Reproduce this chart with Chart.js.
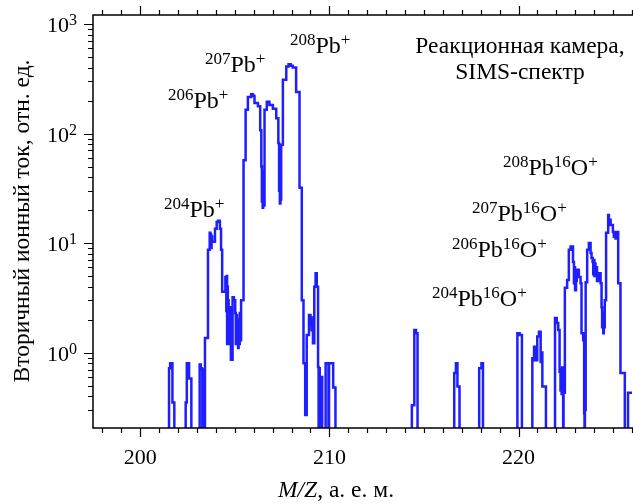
<!DOCTYPE html>
<html lang="ru">
<head>
<meta charset="UTF-8">
<title>SIMS</title>
<script src="https://cdn.jsdelivr.net/npm/chart.js"></script>
<style>
  body { margin: 0; background: #fff; }
  #box { width: 633px; height: 504px; }
</style>
</head>
<body>
<div id="box"><canvas id="chart" width="633" height="504"></canvas></div>
<script>
    // значения ниже оси (нет сигнала)
    var OFF = 0.05;

    // M/Z, а. е. м. (значение держится до следующей точки)
    var masses = [
        197.5,
        201.52, 201.58, 201.62, 201.66, 201.70, 201.80,
        202.40, 202.46, 202.50, 202.54, 202.58, 202.70,
        203.14, 203.20, 203.26, 203.28, 203.30, 203.37,
        203.42, 203.58, 203.67, 203.71, 203.73, 203.75, 203.77, 203.80, 203.95, 204.04, 204.11, 204.21, 204.27,
        204.33, 204.50, 204.55, 204.57, 204.59, 204.61, 204.63, 204.65, 204.67, 204.71, 204.75, 204.79,
        204.88, 204.95, 205.02, 205.05, 205.08, 205.11, 205.14, 205.17, 205.20, 205.23, 205.26, 205.30, 205.33,
        205.46, 205.57, 205.69, 205.86, 205.96, 206.04, 206.22, 206.34, 206.40, 206.43, 206.45, 206.47, 206.50, 206.53,
        206.57, 206.69, 206.83, 207.01, 207.19, 207.30, 207.34, 207.36, 207.38, 207.41, 207.43, 207.45,
        207.54, 207.72, 207.84, 207.95, 208.06, 208.24, 208.42, 208.54, 208.63, 208.72,
        208.80, 208.92, 209.00, 209.03, 209.06, 209.09, 209.13, 209.20, 209.27, 209.33, 209.40,
        209.43, 209.45, 209.49, 209.51, 209.55, 209.57, 209.62,
        209.80, 209.95, 209.98, 210.20, 210.32,
        214.36, 214.49, 214.58, 214.66,
        216.60, 216.69, 216.77, 216.88,
        217.92, 218.04, 218.12,
        219.94, 220.06, 220.18,
        220.73, 220.82, 220.86, 220.90, 220.94, 220.99, 221.08, 221.17, 221.20, 221.26, 221.45,
        221.93, 222.02, 222.10, 222.17, 222.22, 222.25, 222.28, 222.31, 222.36, 222.38,
        222.45, 222.57, 222.66, 222.75, 222.88, 222.93, 222.96, 222.99, 223.04, 223.08, 223.19, 223.28,
        223.33, 223.42, 223.47, 223.49, 223.51,
        223.55, 223.63, 223.72, 223.81, 223.86, 223.92, 223.95, 223.98, 224.01, 224.04, 224.07, 224.10, 224.15,
        224.25, 224.34, 224.39, 224.42, 224.45, 224.48, 224.51, 224.54, 224.56,
        224.63, 224.74, 224.78, 224.81, 224.87, 224.99, 225.04, 225.09, 225.13, 225.18, 225.27,
        225.39, 225.52, 225.62, 225.79, 226.0
    ];

    // Вторичный ионный ток, отн. ед.
    var intensity = [
        OFF,
        0.72, 0.8, 0.72, 0.8, 0.35, OFF,
        0.35, 0.8, 0.7, 0.8, 0.58, OFF,
        0.78, 0.72, 0.7, OFF, 0.7, OFF,
        1.36, 8.7, 12.4, 9.5, 12, 9, 11.5, 10.3, 13.5, 15.6, 16, 13.5, 8.7,
        3.6, 4.9, 2.4, 5.0, 1.2, 4.0, 1.5, 3.0, 1.2, 2.6, 1.4, 0.86,
        3.2, 3.0, 2.3, 1.2, 2.2, 1.3, 2.0, 1.1, 1.8, 1.2, 2.3, 1.3, 3.0,
        57, 165, 215, 228, 220, 190, 177, 107, 50, 24, 45, 21, 40, 22,
        165, 195, 182, 168, 138, 82, 30, 60, 23, 50, 25, 79,
        310, 410, 430, 415, 400, 240, 32, 3.0, 0.8, 0.27,
        1.45, 2.2, 1.8, 2.1, 1.6, 2.0, 1.22, 4.0, 5.3, 4.0, 0.74,
        OFF, 0.72, OFF, 0.6, OFF, 0.6, OFF,
        0.8, OFF, 0.8, 0.48, OFF,
        0.33, 1.61, 1.5, OFF,
        0.65, 0.8, 0.49, OFF,
        0.72, 0.8, OFF,
        1.5, 1.45, OFF,
        0.89, 1.13, 0.85, 1.1, 0.85, 1.4, 1.55, 0.82, 1.0, 0.49, OFF,
        2.07, 1.86, 1.61, 0.67, 0.45, 0.7, 0.42, 0.73, OFF, 0.43,
        3.9, 4.6, 8.7, 9.3, 6.7, 4.3, 6.0, 3.7, 4.5, 5.7, 4.9, 4.3,
        1.5, 1.3, 0.28, OFF, 0.3,
        4.4, 8.7, 10, 8.1, 7.3, 6.7, 5.2, 7.0, 5.0, 6.5, 5.0, 6.0, 4.5,
        5.3, 4.3, 2.6, 1.7, 2.3, 1.5, 2.0, 1.7, 3.0,
        12.4, 18, 15.5, 16.3, 14.6, 12.6, 11.4, 12.6, 11, 12.6, 4.3,
        0.65, 0.65, OFF, 0.43, 0.43
    ];

    var xTicks = [200, 210, 220];
    var yTicks = [1, 10, 100, 1000];

    var FONT = "'Liberation Serif', 'Times New Roman', serif";

    // подписи пиков: [текст, верхний индекс?]
    var notes = [
        { parts: [['204', 1], ['Pb', 0], ['+', 1]], x: 164, y: 217 },
        { parts: [['206', 1], ['Pb', 0], ['+', 1]], x: 168, y: 108 },
        { parts: [['207', 1], ['Pb', 0], ['+', 1]], x: 205, y: 72 },
        { parts: [['208', 1], ['Pb', 0], ['+', 1]], x: 290, y: 53 },
        { parts: [['208', 1], ['Pb', 0], ['16', 1], ['O', 0], ['+', 1]], x: 503, y: 175 },
        { parts: [['207', 1], ['Pb', 0], ['16', 1], ['O', 0], ['+', 1]], x: 472, y: 221 },
        { parts: [['206', 1], ['Pb', 0], ['16', 1], ['O', 0], ['+', 1]], x: 452, y: 257 },
        { parts: [['204', 1], ['Pb', 0], ['16', 1], ['O', 0], ['+', 1]], x: 432, y: 306 }
    ];

    function drawRich(ctx, parts, x, y, size, supSize, raise) {
        var cx = x;
        ctx.textAlign = 'left';
        ctx.textBaseline = 'alphabetic';
        for (var i = 0; i < parts.length; i++) {
            var p = parts[i];
            ctx.font = (p[2] ? 'italic ' : '') + (p[1] ? supSize : size) + 'px ' + FONT;
            ctx.fillText(p[0], cx, p[1] ? y - raise : y);
            cx += ctx.measureText(p[0]).width;
        }
        return cx - x;
    }

    var decor = {
        id: 'decor',
        afterDraw: function (chart) {
            var ctx = chart.ctx, a = chart.chartArea;
            var x = chart.scales.x, y = chart.scales.y;
            ctx.save();
            ctx.strokeStyle = '#000';
            ctx.fillStyle = '#000';
            ctx.lineWidth = 1.5;

            // рамка: слева, снизу, сверху
            ctx.beginPath();
            ctx.moveTo(chart.width, a.top);
            ctx.lineTo(a.left, a.top);
            ctx.lineTo(a.left, a.bottom);
            ctx.lineTo(chart.width, a.bottom);
            ctx.stroke();

            // деления по X
            ctx.lineWidth = 1.2;
            ctx.beginPath();
            for (var m = Math.ceil(x.min); m <= x.max; m++) {
                var px = Math.round(x.getPixelForValue(m)) + 0.5;
                var len = (m % 10 === 0) ? 9 : 5;
                ctx.moveTo(px, a.bottom);
                ctx.lineTo(px, a.bottom + len);
                ctx.moveTo(px, a.top);
                ctx.lineTo(px, a.top - len);
            }
            // деления по Y
            for (var e = -1; e <= 3; e++) {
                for (var k = 1; k <= 9; k++) {
                    var v = k * Math.pow(10, e);
                    if (v < y.min || v > y.max) continue;
                    var py = Math.round(y.getPixelForValue(v)) + 0.5;
                    var l = (k === 1) ? 9 : 5;
                    ctx.moveTo(a.left, py);
                    ctx.lineTo(a.left - l, py);
                }
            }
            ctx.stroke();

            // подписи оси Y: 10^n
            for (var i = 0; i < y.ticks.length; i++) {
                var val = y.ticks[i].value;
                var ty = y.getPixelForValue(val);
                var exp = String(Math.round(Math.log10(val)));
                ctx.font = '16px ' + FONT;
                var sw = ctx.measureText(exp).width;
                ctx.textAlign = 'right';
                ctx.textBaseline = 'alphabetic';
                ctx.fillText(exp, 77, ty + 1);
                ctx.font = '22px ' + FONT;
                ctx.fillText('10', 77 - sw, ty + 8);
            }

            // подпись оси Y
            ctx.save();
            ctx.translate(29, 221);
            ctx.rotate(-Math.PI / 2);
            ctx.font = '23.5px ' + FONT;
            ctx.textAlign = 'center';
            ctx.textBaseline = 'alphabetic';
            ctx.fillText('Вторичный ионный ток, отн. ед.', 0, 0);
            ctx.restore();

            // подпись оси X
            drawRich(ctx, [['M/Z', 0, 1], [', а. е. м.', 0]], 278, 497, 23.5, 23.5, 0);

            // подписи пиков
            for (var j = 0; j < notes.length; j++) {
                drawRich(ctx, notes[j].parts, notes[j].x, notes[j].y, 24, 17, 8);
            }

            ctx.font = '23.5px ' + FONT;
            ctx.textAlign = 'center';
            ctx.textBaseline = 'alphabetic';
            ctx.fillText('Реакционная камера,', 520, 53);
            ctx.fillText('SIMS-спектр', 520, 79);
            ctx.restore();
        }
    };

    var points = masses.map(function (m, i) { return { x: m, y: intensity[i] }; });

    var config = {
        type: 'line',
        data: {
            datasets: [
                {
                    label: 'SIMS',
                    data: points,
                    borderColor: 'rgb(30, 30, 255)',
                    borderWidth: 2.5,
                    pointRadius: 0,
                    stepped: true,
                    fill: false
                }
            ]
        },
        options: {
            responsive: false,
            animation: false,
            layout: { padding: { top: 15, right: 1, left: 0, bottom: 0 } },
            plugins: {
                legend: { display: false },
                tooltip: { enabled: false }
            },
            scales: {
                x: {
                    type: 'linear',
                    min: 197.5,
                    max: 226,
                    grid: { display: false, drawTicks: false },
                    border: { display: false },
                    afterBuildTicks: function (s) { s.ticks = xTicks.map(function (v) { return { value: v }; }); },
                    afterFit: function (s) { s.height = 76; },
                    ticks: {
                        color: '#000',
                        font: { family: FONT, size: 22 },
                        padding: 17,
                        maxRotation: 0,
                        autoSkip: false
                    }
                },
                y: {
                    type: 'logarithmic',
                    min: 0.205,
                    max: 1208,
                    grid: { display: false, drawTicks: false },
                    border: { display: false },
                    afterBuildTicks: function (s) { s.ticks = yTicks.map(function (v) { return { value: v }; }); },
                    afterFit: function (s) { s.width = 93; },
                    ticks: { display: false }
                }
            }
        },
        plugins: [decor]
    };

    var chart = new Chart(document.getElementById('chart'), config);
</script>
</body>
</html>
